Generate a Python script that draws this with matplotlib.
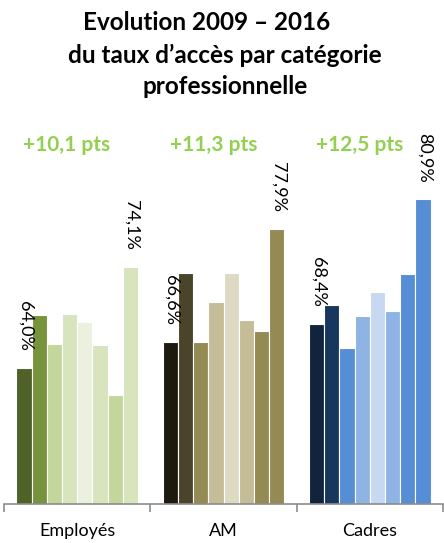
import numpy as np
import matplotlib
matplotlib.use("Agg")
import matplotlib.pyplot as plt

plt.rcParams['font.family'] = ['Lato', 'DejaVu Sans']

# données (2009 -> 2016)
categories = ['Employés', 'AM', 'Cadres']
annees = [2009, 2010, 2011, 2012, 2013, 2014, 2015, 2016]
employes = [64.0, 69.3, 66.4, 69.4, 68.6, 66.3, 61.3, 74.1]
am = [66.6, 73.5, 66.6, 70.6, 73.5, 68.8, 67.7, 77.9]
cadres = [68.4, 70.3, 66.0, 69.2, 71.6, 69.7, 73.4, 80.9]
evolutions = ['+10,1 pts', '+11,3 pts', '+12,5 pts']

couleurs = [
    ['#4F6228', '#77933C', '#C3D69B', '#D7E4BD', '#EBF1DE', '#D7E4BD', '#C3D69B', '#D7E4BD'],
    ['#1D1B10', '#4A452A', '#948A54', '#C4BD97', '#DDD9C3', '#C4BD97', '#948A54', '#948A54'],
    ['#10243E', '#17375E', '#558ED5', '#8EB4E3', '#C6D9F1', '#8EB4E3', '#558ED5', '#558ED5'],
]

series = [employes, am, cadres]

fig = plt.figure(figsize=(4.44, 5.43), dpi=100)
ax = fig.add_axes([4 / 444, 39 / 543, 439 / 444, 354 / 543])

w = 0.1037
for g, vals in enumerate(series):
    for i, v in enumerate(vals):
        x = g + (i - 3.5) * w
        ax.bar(x, v - 50.4, bottom=50.4, width=w, color=couleurs[g][i],
               edgecolor='white', linewidth=0.8)
    # étiquettes première et dernière année
    for i in (0, len(vals) - 1):
        x = g + (i - 3.5) * w
        ax.annotate(('%.1f%%' % vals[i]).replace('.', ','), (x, vals[i]),
                    xytext=(1, 12), textcoords='offset points',
                    rotation=-90, ha='center', va='bottom', fontsize=13,
                    color='black')
    ax.text(g - 0.07, 1.015, evolutions[g], transform=ax.get_xaxis_transform(),
            ha='center', va='center', fontsize=15, fontweight='bold',
            color='#92D050')

ax.set_xlim(-0.5, 2.5)
ax.set_ylim(50.4, 85.8)

for s in ['top', 'right', 'left']:
    ax.spines[s].set_visible(False)
ax.spines['bottom'].set_color('#8C8C8C')
ax.spines['bottom'].set_linewidth(1.2)
ax.set_yticks([])
ax.set_xticks(range(3))
ax.set_xticklabels(categories, fontsize=13)
ax.tick_params(axis='x', length=0, pad=14)
ax.set_xticks([-0.5, 0.5, 1.5, 2.5], minor=True)
ax.tick_params(axis='x', which='minor', length=6, width=1.2, color='#8C8C8C',
               direction='out')

fig.text(207 / 444, 1 - 23 / 543, 'Evolution 2009 – 2016', ha='center',
         va='center', fontsize=17.5, fontweight='bold')
fig.text(225 / 444, 1 - 55 / 543, 'du taux d’accès par catégorie', ha='center',
         va='center', fontsize=17.5, fontweight='bold')
fig.text(225 / 444, 1 - 86 / 543, 'professionnelle', ha='center',
         va='center', fontsize=17.5, fontweight='bold')

fig.savefig('out.png', dpi=100)
